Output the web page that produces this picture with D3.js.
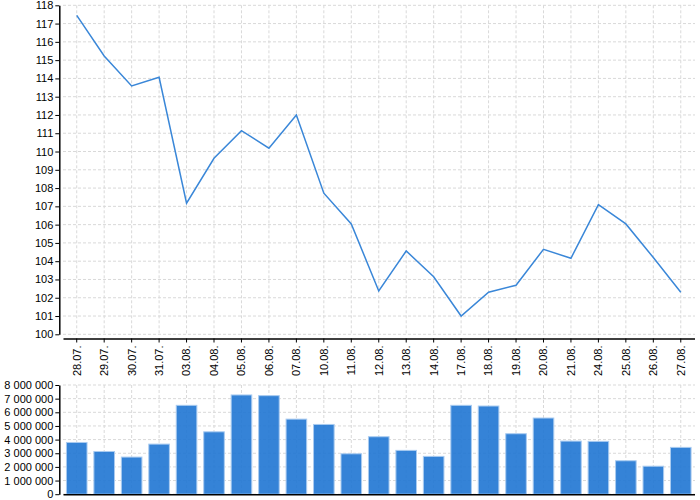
<!DOCTYPE html>
<html>
<head>
<meta charset="utf-8">
<script src="https://cdn.jsdelivr.net/npm/d3@7"></script>
<style>
  body { margin: 0; background: #fff; }
  svg { font-family: "DejaVu Sans", sans-serif; }
  .grid line { stroke: #d9d9d9; stroke-dasharray: 3,2; }
  .axis path, .axis line { stroke: #000; }
  .axis path { stroke-width: 1.5; }
  .axis text { font-size: 11px; fill: #000; }
</style>
</head>
<body>
<svg width="700" height="500"></svg>
<script>
var dates = ["28.07.", "29.07.", "30.07.", "31.07.", "03.08.", "04.08.", "05.08.", "06.08.",
  "07.08.", "10.08.", "11.08.", "12.08.", "13.08.", "14.08.", "17.08.", "18.08.",
  "19.08.", "20.08.", "21.08.", "24.08.", "25.08.", "26.08.", "27.08."];

var prices = [117.45, 115.23, 113.59, 114.06, 107.17, 109.63, 111.14, 110.18,
  112.0, 107.72, 106.04, 102.37, 104.56, 103.15, 101.0, 102.3,
  102.68, 104.65, 104.16, 107.09, 106.04, 104.2, 102.3];

var volumes = [3790000, 3130000, 2720000, 3670000, 6510000, 4570000, 7270000, 7220000,
  5500000, 5110000, 2960000, 4210000, 3210000, 2770000, 6510000, 6460000,
  4430000, 5580000, 3890000, 3870000, 2450000, 2050000, 3430000];

var priceTicks = d3.range(100, 119, 1);
var volumeTicks = d3.range(0, 8000001, 1000000);

var svg = d3.select("svg");
var loc = d3.formatLocale({decimal: ".", thousands: " ", grouping: [3], currency: ["", ""]});
var fmtVol = loc.format(",");

//shared x scale
var x = d3.scaleBand().domain(dates).range([63, 694.5]).paddingInner(0.25).paddingOuter(0.125);
var cx = function(d) { return x(d) + x.bandwidth() / 2; };

//top chart
var yP = d3.scaleLinear().domain([100, 118]).range([334.3, 5.3]);

var gridTop = svg.append("g").attr("class", "grid");
gridTop.selectAll(".h").data(priceTicks).enter().append("line")
  .attr("x1", 63).attr("x2", 695)
  .attr("y1", function(d) { return yP(d); }).attr("y2", function(d) { return yP(d); });
gridTop.selectAll(".v").data(dates).enter().append("line")
  .attr("x1", cx).attr("x2", cx)
  .attr("y1", 5.3).attr("y2", 334.3);

svg.append("g")
  .attr("class", "axis")
  .attr("transform", "translate(59.3,0)")
  .call(d3.axisLeft(yP).tickValues(priceTicks).tickFormat(d3.format("d")).tickSize(4).tickSizeOuter(0).tickPadding(2));

var xAxis = svg.append("g")
  .attr("class", "axis")
  .attr("transform", "translate(0,338.5)")
  .call(d3.axisBottom(x).tickSize(4).tickSizeOuter(0));
xAxis.selectAll("text")
  .attr("transform", "rotate(-90)")
  .attr("x", -7)
  .attr("y", 0)
  .attr("dy", "0.35em")
  .attr("text-anchor", "end");

var line = d3.line()
  .x(function(d, i) { return cx(dates[i]); })
  .y(function(d) { return yP(d); });

svg.append("path")
  .datum(prices)
  .attr("fill", "none")
  .attr("stroke", "#3a87d8")
  .attr("stroke-width", 1.5)
  .attr("d", line);

//bottom chart
var yV = d3.scaleLinear().domain([0, 8000000]).range([494.2, 385]);

var gridBot = svg.append("g").attr("class", "grid");
gridBot.selectAll(".h").data(volumeTicks).enter().append("line")
  .attr("x1", 63).attr("x2", 695)
  .attr("y1", function(d) { return yV(d); }).attr("y2", function(d) { return yV(d); });
gridBot.selectAll(".v").data(dates).enter().append("line")
  .attr("x1", cx).attr("x2", cx)
  .attr("y1", 385).attr("y2", 494.2);

svg.selectAll(".bar")
  .data(volumes)
  .enter().append("rect")
  .attr("class", "bar")
  .attr("x", function(d, i) { return x(dates[i]); })
  .attr("y", function(d) { return yV(d); })
  .attr("width", x.bandwidth())
  .attr("height", function(d) { return yV(0) - yV(d); })
  .attr("fill", "#1f76d3")
  .attr("fill-opacity", 0.9)
  .attr("stroke", "#a9cbf0")
  .attr("stroke-width", 1);

svg.append("g")
  .attr("class", "axis")
  .attr("transform", "translate(59.3,0)")
  .call(d3.axisLeft(yV).tickValues(volumeTicks).tickFormat(fmtVol).tickSize(4).tickSizeOuter(0).tickPadding(2));

svg.append("g")
  .attr("class", "axis")
  .attr("transform", "translate(0,494.2)")
  .call(d3.axisBottom(x).tickSize(0).tickSizeOuter(0).tickFormat(""));
</script>
</body>
</html>
